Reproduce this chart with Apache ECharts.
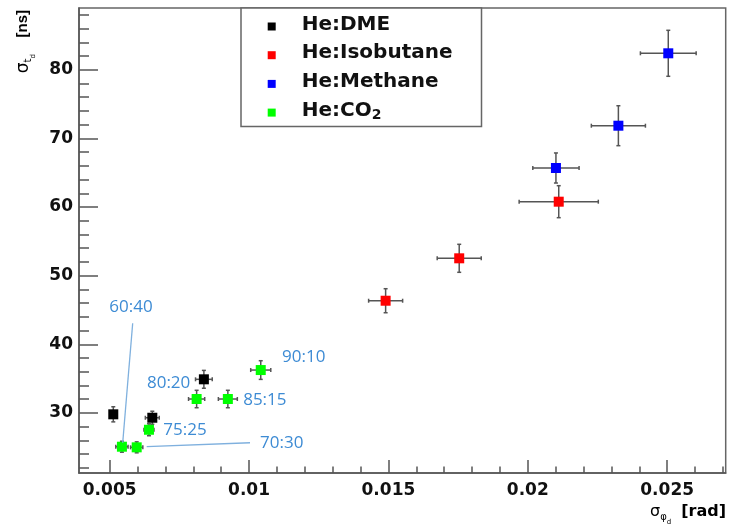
<!DOCTYPE html>
<html><head><meta charset="utf-8">
<script src="https://cdn.jsdelivr.net/npm/echarts@6/dist/echarts.min.js"></script>
<style>html,body{margin:0;padding:0;background:#fff}#c{width:730px;height:531px}</style>
</head><body><div id="c"></div>
<script>
// ---- data ----
const seriesNames = ['He:DME', 'He:Isobutane', 'He:Methane', 'He:CO2'];
const seriesColors = ['#000000', '#ff0000', '#0000ff', '#00ff00'];

const dmeX = [0.00513, 0.00653, 0.00838];
const dmeY = [29.8, 29.3, 34.9];
const dmeXErr = [0.00012, 0.00025, 0.0003];
const dmeYErr = [1.1, 0.95, 1.3];

const isoX = [0.01490, 0.01754, 0.02111];
const isoY = [46.35, 52.53, 60.78];
const isoXErr = [0.00061, 0.00079, 0.00142];
const isoYErr = [1.75, 2.04, 2.33];

const metX = [0.02101, 0.02325, 0.02504];
const metY = [65.69, 71.85, 82.40];
const metXErr = [0.00083, 0.00097, 0.00100];
const metYErr = [2.19, 2.91, 3.35];

const co2X = [0.00544, 0.00597, 0.00641, 0.00812, 0.00924, 0.01042];
const co2Y = [25.08, 24.99, 27.55, 32.03, 32.03, 36.25];
const co2XErr = [0.00022, 0.00022, 0.00018, 0.00029, 0.00034, 0.00036];
const co2YErr = [0.8, 0.8, 0.87, 1.27, 1.27, 1.36];
const co2Labels = ['60:40', '70:30', '75:25', '80:20', '85:15', '90:10'];

const xMajorTicks = [0.005, 0.01, 0.015, 0.02, 0.025];
const xMinorTicks = [0.005, 0.006, 0.007, 0.008, 0.009, 0.010, 0.011, 0.012, 0.013, 0.014, 0.015, 0.016,
  0.017, 0.018, 0.019, 0.020, 0.021, 0.022, 0.023, 0.024, 0.025, 0.026, 0.027];
const yMajorTicks = [30, 40, 50, 60, 70, 80];
const yMinorTicks = [22, 24, 26, 28, 30, 32, 34, 36, 38, 40, 42, 44, 46, 48, 50, 52, 54, 56, 58, 60,
  62, 64, 66, 68, 70, 72, 74, 76, 78, 80, 82, 84, 86, 88];

// annotation placement (styles / offsets, pixels)
const co2LabelOffsets = [[9, -140], [145, -4], [36, 0], [-28, -16], [37, 1], [43, -13]];
// leader lines (data coordinates)
const leaderFrom = [[0.005826, 43.06], [0.006329, 25.08]];
const leaderTo = [[0.005468, 25.66], [0.010035, 25.66]];

// ---- build ----
const groups = [
  [dmeX, dmeY, dmeXErr, dmeYErr],
  [isoX, isoY, isoXErr, isoYErr],
  [metX, metY, metXErr, metYErr],
  [co2X, co2Y, co2XErr, co2YErr]
];
const XMIN = 0.0039, XMAX = 0.0271, YMIN = 21.25, YMAX = 89.0;
const axisColor = '#555';
const tickFont = { fontFamily: 'DejaVu Sans', fontWeight: 'bold', fontSize: 17, color: '#111' };

function errRender(params, api) {
  const x = api.value(0), y = api.value(1), ex = api.value(2), ey = api.value(3);
  const l = api.coord([x - ex, y]), r = api.coord([x + ex, y]);
  const t = api.coord([x, y + ey]), b = api.coord([x, y - ey]);
  const c = 2;
  const st = { stroke: '#555', lineWidth: 1.5 };
  const ln = (x1, y1, x2, y2) => ({ type: 'line', shape: { x1, y1, x2, y2 }, style: st });
  return {
    type: 'group', children: [
      ln(l[0], l[1], r[0], r[1]),
      ln(t[0], t[1], b[0], b[1]),
      ln(l[0], l[1] - c, l[0], l[1] + c),
      ln(r[0], r[1] - c, r[0], r[1] + c),
      ln(t[0] - c, t[1], t[0] + c, t[1]),
      ln(b[0] - c, b[1], b[0] + c, b[1])
    ]
  };
}

const series = [];
groups.forEach((g, gi) => {
  const [xs, ys, exs, eys] = g;
  series.push({
    type: 'custom', name: seriesNames[gi] + '_err', renderItem: errRender,
    xAxisIndex: 0, yAxisIndex: 0, z: 2, silent: true,
    encode: { x: 0, y: 1 },
    data: xs.map((v, i) => [v, ys[i], exs[i], eys[i]])
  });
});
groups.forEach((g, gi) => {
  const [xs, ys] = g;
  const s = {
    type: 'scatter', name: seriesNames[gi], symbol: 'rect', symbolSize: 10,
    xAxisIndex: 0, yAxisIndex: 0, z: 3,
    itemStyle: { color: seriesColors[gi], opacity: 1 },
    data: xs.map((v, i) => ({ value: [v, ys[i]] }))
  };
  if (gi === 3) {
    s.data = xs.map((v, i) => ({ value: [v, ys[i]], name: co2Labels[i] }));
    s.label = {
      show: true, position: 'inside', formatter: p => p.name,
      fontFamily: 'Open Sans', fontSize: 17, color: '#3d8bd4', align: 'center', verticalAlign: 'middle'
    };
    s.labelLayout = p => ({ dx: co2LabelOffsets[p.dataIndex][0], dy: co2LabelOffsets[p.dataIndex][1], hideOverlap: false });
    s.markLine = {
      silent: true, symbol: ['none', 'none'], animation: false,
      label: { show: false },
      lineStyle: { color: '#7fb0de', width: 1.3, type: 'solid' },
      data: leaderFrom.map((p, i) => [{ coord: p }, { coord: leaderTo[i] }])
    };
  }
  series.push(s);
});

const chart = echarts.init(document.getElementById('c'), null, { renderer: 'canvas' });
chart.setOption({
  animation: false,
  backgroundColor: '#fff',
  grid: { left: 79, top: 8, width: 646.7, height: 465, show: true, borderColor: '#666', borderWidth: 1.5, backgroundColor: 'transparent' },
  xAxis: [
    {
      type: 'value', min: XMIN, max: XMAX, position: 'bottom',
      axisLine: { show: true, onZero: false, lineStyle: { color: axisColor, width: 1.5 } },
      axisTick: { show: true, inside: true, length: 13, customValues: xMajorTicks, lineStyle: { color: axisColor, width: 1.5 } },
      axisLabel: Object.assign({ customValues: xMajorTicks, margin: 9 }, tickFont),
      splitLine: { show: false }
    },
    {
      type: 'value', min: XMIN, max: XMAX, position: 'bottom',
      axisLine: { show: false },
      axisTick: { show: true, inside: true, length: 6.5, customValues: xMinorTicks, lineStyle: { color: axisColor, width: 1.5 } },
      axisLabel: { show: false }, splitLine: { show: false }
    }
  ],
  yAxis: [
    {
      type: 'value', min: YMIN, max: YMAX, position: 'left',
      axisLine: { show: true, onZero: false, lineStyle: { color: axisColor, width: 1.5 } },
      axisTick: { show: true, inside: true, length: 19, customValues: yMajorTicks, lineStyle: { color: axisColor, width: 1.5 } },
      axisLabel: Object.assign({ customValues: yMajorTicks, margin: 6 }, tickFont),
      splitLine: { show: false }
    },
    {
      type: 'value', min: YMIN, max: YMAX, position: 'left',
      axisLine: { show: false },
      axisTick: { show: true, inside: true, length: 10, customValues: yMinorTicks, lineStyle: { color: axisColor, width: 1.5 } },
      axisLabel: { show: false }, splitLine: { show: false }
    }
  ],
  legend: {
    orient: 'vertical', left: 241, top: 8,
    data: seriesNames,
    icon: 'rect', itemWidth: 8, itemHeight: 8, itemGap: 8.7,
    padding: [6.5, 29, 4, 26.7],
    backgroundColor: '#fff', borderColor: '#666', borderWidth: 1.5,
    selectedMode: false,
    formatter: name => '{sp| }{n|' + name.replace('CO2', 'CO') + '}' + (name.indexOf('CO2') >= 0 ? '{sub|2}' : ''),
    textStyle: {
      rich: {
        sp: { width: 21 },
        n: { fontFamily: 'DejaVu Sans', fontWeight: 'bold', fontSize: 20, color: '#111', lineHeight: 24, verticalAlign: 'top' },
        sub: { fontFamily: 'DejaVu Sans', fontWeight: 'bold', fontSize: 14, color: '#111', lineHeight: 16, padding: [8, 0, 0, 0], verticalAlign: 'top' }
      }
    }
  },
  graphic: [
    {
      type: 'text', x: 24, y: 10, rotation: Math.PI / 2, silent: true,
      style: {
        text: '{s|σ}{s1|t}{s2|d}     {b|[ns]}', align: 'right', verticalAlign: 'middle',
        rich: {
          s: { fontFamily: 'DejaVu Sans', fontSize: 17, color: '#111', lineHeight: 18, verticalAlign: 'top' },
          s1: { fontFamily: 'DejaVu Sans', fontSize: 10, color: '#111', lineHeight: 12, padding: [8, 0, 0, 0], verticalAlign: 'top' },
          s2: { fontFamily: 'DejaVu Sans', fontSize: 7, color: '#111', lineHeight: 8, padding: [15, 0, 0, 0], verticalAlign: 'top' },
          b: { fontFamily: 'Liberation Sans', fontWeight: 'bold', fontSize: 15, color: '#111', lineHeight: 18, verticalAlign: 'top' }
        }
      }
    },
    {
      type: 'text', x: 726, y: 513, silent: true,
      style: {
        text: '{s|σ}{s1|φ}{s2|d}   {b|[rad]}', align: 'right', verticalAlign: 'middle',
        rich: {
          s: { fontFamily: 'DejaVu Sans', fontSize: 16, color: '#111', lineHeight: 18, verticalAlign: 'top' },
          s1: { fontFamily: 'DejaVu Sans', fontSize: 10, color: '#111', lineHeight: 12, padding: [8, 0, 0, 0], verticalAlign: 'top' },
          s2: { fontFamily: 'DejaVu Sans', fontSize: 7, color: '#111', lineHeight: 8, padding: [15, 0, 0, 0], verticalAlign: 'top' },
          b: { fontFamily: 'DejaVu Sans', fontWeight: 'bold', fontSize: 16, color: '#111', lineHeight: 18, verticalAlign: 'top' }
        }
      }
    }
  ],
  series: series
});
</script>
</body></html>
